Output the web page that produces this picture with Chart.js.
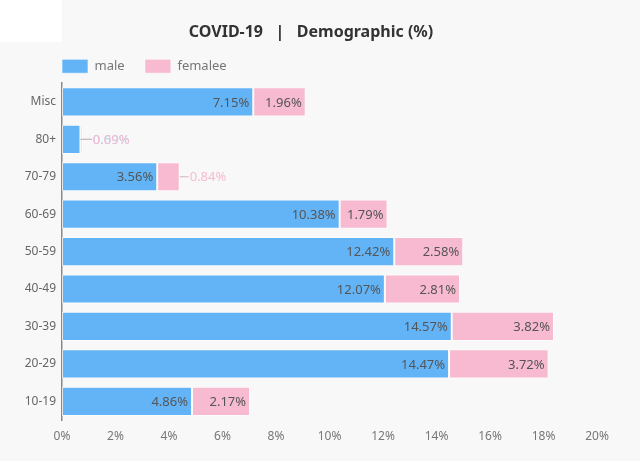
<!DOCTYPE html>
<html lang="en">
  <head>
    <meta charset="UTF-8" />
    <title>COVID-19 | Demographic (%)</title>
    <script src="https://cdn.jsdelivr.net/npm/chart.js"></script>
    <style>
      html, body { margin: 0; padding: 0; background: #f8f8f8; }
      .wrap { position: relative; width: 640px; height: 461px; }
      .corner { position: absolute; left: 0; top: 0; width: 62px; height: 42px; background: #fff; }
      canvas { position: absolute; left: 0; top: 0; }
    </style>
  </head>
  <body>
    <div class="wrap">
      <div class="corner"></div>
      <canvas id="demoChart" width="640" height="461"></canvas>
    </div>

    <script>
      // data
      const ageGroups = ["Misc", "80+", "70-79", "60-69", "50-59", "40-49", "30-39", "20-29", "10-19"];
      const maleValues = [7.15, 0.69, 3.56, 10.38, 12.42, 12.07, 14.57, 14.47, 4.86];
      const femaleValues = [1.96, 0.09, 0.84, 1.79, 2.58, 2.81, 3.82, 3.72, 2.17];
      const xTicks = [0, 2, 4, 6, 8, 10, 12, 14, 16, 18, 20];

      const FONT = "'Noto Sans', sans-serif";

      // labels: inside when they fit, else outside with a little leader line
      const barLabels = {
        id: "barLabels",
        afterDatasetsDraw(chart) {
          const ctx = chart.ctx;
          ctx.save();
          ctx.font = "13px " + FONT;
          ctx.textBaseline = "middle";
          const outColors = ["#a9d2f6", "#f5bcd0"];
          const lineColors = ["#9fb0c0", "#d8b4c0"];
          chart.data.datasets.forEach((ds, di) => {
            const meta = chart.getDatasetMeta(di);
            meta.data.forEach((bar, i) => {
              const txt = ds.data[i].toFixed(2) + "%";
              const w = ctx.measureText(txt).width;
              const left = Math.min(bar.x, bar.base);
              const right = Math.max(bar.x, bar.base);
              if (right - left >= w + 8) {
                ctx.fillStyle = "#555";
                ctx.textAlign = "right";
                ctx.fillText(txt, right - 4, bar.y + 1);
              } else {
                // end of the whole stack
                const total = maleValues[i] + femaleValues[i];
                const endX = chart.scales.x.getPixelForValue(total);
                ctx.strokeStyle = lineColors[di];
                ctx.lineWidth = 1;
                ctx.beginPath();
                ctx.moveTo(right, bar.y);
                ctx.lineTo(endX + 9, bar.y);
                ctx.stroke();
                ctx.fillStyle = outColors[di];
                ctx.textAlign = "left";
                ctx.fillText(txt, endX + 10, bar.y + 1);
              }
            });
          });
          ctx.restore();
        },
      };

      new Chart(document.getElementById("demoChart"), {
        type: "bar",
        data: {
          labels: ageGroups,
          datasets: [
            {
              label: "male      ",
              data: maleValues,
              backgroundColor: "#63b4f6",
              borderColor: "rgba(255,255,255,0.6)",
              borderWidth: 1,
              borderSkipped: false,
            },
            {
              label: "femalee",
              data: femaleValues,
              backgroundColor: "#f7bad0",
              borderColor: "rgba(255,255,255,0.6)",
              borderWidth: 1,
              borderSkipped: false,
            },
          ],
        },
        options: {
          indexAxis: "y",
          responsive: false,
          animation: false,
          categoryPercentage: 1,
          barPercentage: 0.78,
          layout: { padding: { left: 25, right: 43, top: 17, bottom: 0 } },
          plugins: {
            title: {
              display: true,
              text: "COVID-19   |   Demographic (%)",
              color: "#333",
              font: { family: FONT, size: 16, weight: "bold" },
              padding: { top: 6, bottom: 17 },
            },
            legend: {
              fullSize: false,
              align: "start",
              labels: {
                boxWidth: 26,
                boxHeight: 14,
                padding: 0,
                color: "#777",
                font: { family: FONT, size: 13 },
              },
            },
            tooltip: { enabled: false },
          },
          scales: {
            x: {
              stacked: true,
              min: 0,
              max: 20,
              afterBuildTicks: (s) => { s.ticks = xTicks.map((v) => ({ value: v })); },
              afterFit: (s) => { s.height = 41; },
              grid: { display: false, drawTicks: false },
              border: { display: false },
              ticks: {
                padding: 9,
                color: "#777",
                font: { family: FONT, size: 12 },
                callback: (v) => v + "%",
              },
            },
            y: {
              stacked: true,
              afterFit: (s) => { s.width = 37; },
              grid: { display: false, drawTicks: false },
              border: { display: true, color: "#888", width: 1.5 },
              ticks: {
                padding: 6,
                color: "#666",
                font: { family: FONT, size: 12 },
              },
            },
          },
        },
        plugins: [barLabels],
      });
    </script>
  </body>
</html>
